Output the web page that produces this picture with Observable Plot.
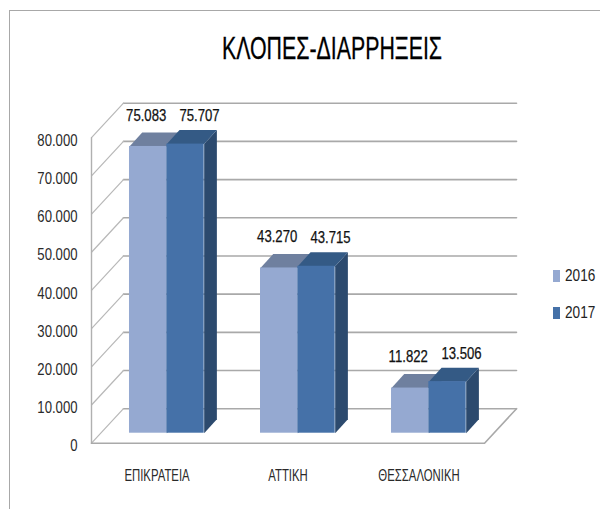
<!DOCTYPE html>
<html>
<head>
<meta charset="utf-8">
<script src="https://cdn.jsdelivr.net/npm/d3@7"></script>
<script src="https://cdn.jsdelivr.net/npm/@observablehq/plot@0.6"></script>
<style>
  html, body { margin: 0; padding: 0; background: #fff; }
  #page { position: relative; width: 600px; height: 509px; overflow: hidden; font-family: "Liberation Sans", sans-serif; }
  #frame { position: absolute; left: 9px; top: 10px; width: 600px; height: 510px; border-left: 1.5px solid #a8a8a8; border-top: 1.5px solid #a8a8a8; }
  #title { position: absolute; left: 0; top: 28px; width: 664px; text-align: center; font-size: 32px; line-height: 40px; color: #000; transform: scaleX(0.667); -webkit-text-stroke: 0.3px #000; }
  #chart { position: absolute; left: 0; top: 0; }
  .lg { position: absolute; left: 553px; font-size: 16px; color: #222; line-height: 16px; }
  .lg i { position: absolute; left: 0; top: 2px; width: 7px; height: 12px; }
  .lg span { display: inline-block; margin-left: 12px; transform: scaleX(0.85); transform-origin: left center; }
</style>
</head>
<body>
<div id="page">
  <div id="frame"></div>
  <div id="chart"></div>
  <div id="title"></div>
  <div id="legend"></div>
</div>
<script>
const chartTitle = "ΚΛΟΠΕΣ-ΔΙΑΡΡΗΞΕΙΣ";
const categories = ["ΕΠΙΚΡΑΤΕΙΑ", "ΑΤΤΙΚΗ", "ΘΕΣΣΑΛΟΝΙΚΗ"];
const years = ["2016", "2017"];
const values2016 = [75083, 43270, 11822];
const values2017 = [75707, 43715, 13506];
const yTicks = [0, 10000, 20000, 30000, 40000, 50000, 60000, 70000, 80000];

// Drawing style and the oblique projection, in scale units
const col2016 = {front: "#95a9d1", top: "#6f809f", side: "#5f7397"};
const col2017 = {front: "#4571a8", top: "#345a85", side: "#2c4a6e"};
const wallDX = 0.244, wallDY = 9030;   // depth of the chart box
const barDX = 0.097, barDY = 3660;     // depth of one bar
const baseLift = 2617;                 // bars stand this far above the front edge
const barInset = 0.29, barW = 0.285;   // bar start within a category, bar width
const gridColor = "#a9a9a9";
const fmt = v => d3.format(",")(v).replace(/,/g, ".");

const series = [
  {values: values2016, col: col2016, slot: 0},
  {values: values2017, col: col2017, slot: 1}
];
const bars = series.flatMap(s => s.values.map((v, i) => {
  const x0 = i + barInset + s.slot * barW;
  return {v, i, col: s.col, x0, x1: x0 + barW, y0: baseLift, y1: baseLift + v};
}));
const polys = [];
bars.forEach((b, k) => {
  [["side", [[b.x1, b.y0], [b.x1 + barDX, b.y0 + barDY], [b.x1 + barDX, b.y1 + barDY], [b.x1, b.y1]]],
   ["top", [[b.x0, b.y1], [b.x1, b.y1], [b.x1 + barDX, b.y1 + barDY], [b.x0 + barDX, b.y1 + barDY]]]]
    .forEach(([face, pts]) => pts.forEach(([x, y]) => polys.push({x, y, z: k + face, c: b.col[face]})));
});

const backGrid = yTicks.flatMap(t => [{x: wallDX, y: t + wallDY, t}, {x: 3 + wallDX, y: t + wallDY, t}]);
const sideGrid = yTicks.flatMap(t => [{x: 0, y: t, t}, {x: wallDX, y: t + wallDY, t}]);
const floorEdge = [{x: 0, y: 0}, {x: 3, y: 0}, {x: 3 + wallDX, y: wallDY}];
const leftEdge = [{x: 0, y: 0}, {x: 0, y: 80000}];

const labelMark = (vals, slot, dx, dy) => Plot.text(vals, {
  x: (d, i) => i + barInset + (slot + 0.5) * barW,
  y: d => d + baseLift,
  text: d => fmt(d),
  dx, dy,
  fontSize: 16,
  fill: "#111",
  stroke: "#111",
  strokeWidth: 0.25
});

const plot = Plot.plot({
  width: 600,
  height: 509,
  marginLeft: 91,
  marginRight: 84,
  marginTop: 102.7,
  marginBottom: 66.3,
  style: {fontFamily: '"Liberation Sans", sans-serif', fontSize: "16px", background: "transparent", color: "#2a2a2a"},
  x: {domain: [0, 3 + wallDX]},
  y: {domain: [0, 80000 + wallDY]},
  color: {type: "identity"},
  marks: [
    Plot.line(backGrid, {x: "x", y: "y", z: "t", stroke: gridColor, strokeWidth: 1.6}),
    Plot.line(sideGrid, {x: "x", y: "y", z: "t", stroke: "#b8b8b8", strokeWidth: 1.2}),
    Plot.line(leftEdge, {x: "x", y: "y", stroke: "#b0b0b0", strokeWidth: 1.4}),
    Plot.line(floorEdge, {x: "x", y: "y", stroke: gridColor, strokeWidth: 1.6}),
    Plot.line(polys, {x: "x", y: "y", z: "z", fill: "c", stroke: "none"}),
    Plot.rect(bars, {x1: "x0", x2: "x1", y1: "y0", y2: "y1", fill: d => d.col.front}),
    labelMark(values2016, 0, -2, -31),
    labelMark(values2017, 1, 14, -28),
    Plot.axisY(yTicks, {anchor: "left", tickSize: 0, tickPadding: 14, dy: 3, tickFormat: fmt, label: null}),
    Plot.axisX([0.5, 1.5, 2.5], {anchor: "bottom", tickSize: 0, tickPadding: 26, tickFormat: d => categories[d - 0.5], label: null})
  ]
});
document.getElementById("chart").append(plot);
// The reference font is narrow: condense the installed one to the same widths.
plot.querySelectorAll("text").forEach(t => {
  const k = /^[\d.]+$/.test(t.textContent) ? 0.82 : 0.71;
  t.setAttribute("textLength", t.getComputedTextLength() * k);
  t.setAttribute("lengthAdjust", "spacingAndGlyphs");
});
document.getElementById("title").textContent = chartTitle;
const legendColors = [col2016.front, col2017.front];
const legendTops = [268, 305];
years.forEach((y, i) => {
  const row = document.createElement("div");
  row.className = "lg";
  row.style.top = legendTops[i] + "px";
  row.innerHTML = `<i style="background:${legendColors[i]}"></i><span>${y}</span>`;
  document.getElementById("legend").append(row);
});
</script>
</body>
</html>
